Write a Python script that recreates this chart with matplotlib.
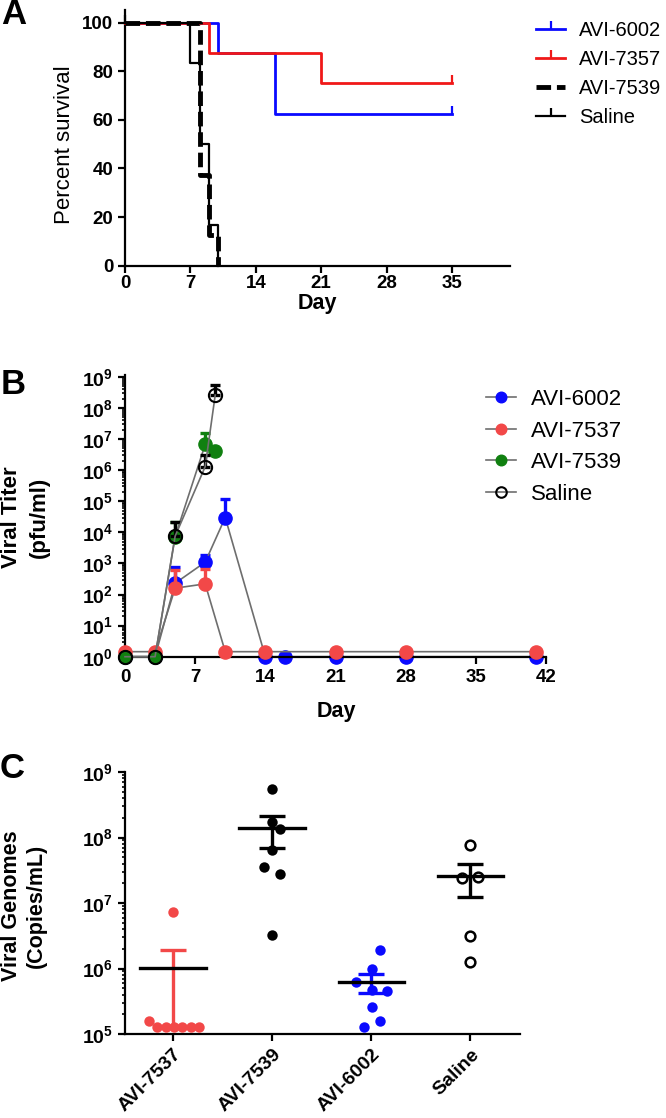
import numpy as np
import matplotlib
matplotlib.use("Agg")
import matplotlib.pyplot as plt
from matplotlib.ticker import LogLocator, FixedLocator, NullFormatter

plt.rcParams['font.family'] = ['Liberation Sans', 'DejaVu Sans']
plt.rcParams['mathtext.fontset'] = 'custom'
plt.rcParams['mathtext.rm'] = 'Liberation Sans'
plt.rcParams['mathtext.bf'] = 'Liberation Sans:bold'

# ---- panel A: survival (day, percent) ----
surv_names = ["AVI-6002", "AVI-7357", "AVI-7539", "Saline"]
surv_6002_days = [0, 10, 16, 35]
surv_6002_pct = [100, 87.5, 62.5, 62.5]
surv_7357_days = [0, 9, 21, 35]
surv_7357_pct = [100, 87.5, 75, 75]
surv_7539_days = [0, 8, 9, 10]
surv_7539_pct = [100, 37.5, 12.5, 0]
surv_sal_days = [0, 7, 8, 9, 10]
surv_sal_pct = [100, 83.3, 50, 16.7, 0]

# ---- panel B: viral titer ----
tit_names = ["AVI-6002", "AVI-7537", "AVI-7539", "Saline"]
tit_6002_days = [0, 3, 5, 8, 10, 14, 16, 21, 28, 41]
tit_6002_val = [1, 1, 230, 1100, 3.0e4, 1, 1, 1, 1, 1]
tit_6002_err = [0, 0, 780, 1900, 1.2e5, 0, 0, 0, 0, 0]
tit_7537_days = [0, 3, 5, 8, 10, 14, 21, 28, 41]
tit_7537_val = [1.45, 1.45, 160, 220, 1.45, 1.45, 1.45, 1.45, 1.45]
tit_7537_err = [0, 0, 610, 640, 0, 0, 0, 0, 0]
tit_7539_days = [0, 3, 5, 8, 9]
tit_7539_val = [1, 1, 7200, 6.7e6, 4.2e6]
tit_7539_err = [0, 0, 2.2e4, 1.6e7, 0]
tit_sal_days = [0, 3, 5, 8, 9]
tit_sal_val = [1, 1, 7500, 1.3e6, 2.6e8]
tit_sal_err = [0, 0, 2.1e4, 3.0e6, 5.4e8]

# ---- panel C: viral genomes per animal ----
gen_groups = ["AVI-7537", "AVI-7539", "AVI-6002", "Saline"]
gen_7537 = [7.3e6, 1.6e5, 1.3e5, 1.3e5, 1.3e5, 1.3e5, 1.3e5, 1.3e5]
gen_7539 = [5.5e8, 1.7e8, 1.35e8, 6.5e7, 3.5e7, 2.8e7, 3.3e6]
gen_6002 = [1.9e6, 1.0e6, 6.3e5, 4.7e5, 4.6e5, 2.6e5, 1.6e5, 1.3e5]
gen_sal = [7.7e7, 2.4e7, 2.5e7, 3.1e6, 1.25e6]
# horizontal scatter offsets (pixels) for the dot plot
off_7537 = [0, -24, -16, -7, 1, 9, 18, 26]
off_7539 = [0, 0, 8, 0, -8, 8, 0]
off_6002 = [9, 1, -15, 1, 16, 1, 9, -7]
off_sal = [0, -8, 8, 0, 0]

W, H = 666, 1118
fig = plt.figure(figsize=(W / 100, H / 100), dpi=100)


def box(x0, y0, x1, y1):
    return [x0 / W, 1 - y1 / H, (x1 - x0) / W, (y1 - y0) / H]


def fpos(x, y):
    return x / W, 1 - y / H


def style_axes(ax):
    for s in ['top', 'right']:
        ax.spines[s].set_visible(False)
    for s in ['left', 'bottom']:
        ax.spines[s].set_linewidth(1.6)
    ax.tick_params(which='major', length=5, width=1.6, labelsize=13.5, direction='out')
    ax.tick_params(which='minor', length=2.5, width=1.2, direction='out')
    for lab in ax.get_xticklabels() + ax.get_yticklabels():
        lab.set_fontweight('bold')


BLUE = '#0a0aff'
RED_A = '#f01818'
RED = '#f24848'
GREEN = '#108010'
GREY = '#6e6e6e'

# ================= A =================
axA = fig.add_axes(box(125, 10.5, 510, 265.7))
axA.step(surv_6002_days, surv_6002_pct, where='post', color=BLUE, lw=2,
         marker=2, markevery=[len(surv_6002_days) - 1], ms=6, mew=1.6,
         clip_on=False, label=surv_names[0], zorder=2)
axA.step(surv_7357_days, surv_7357_pct, where='post', color=RED_A, lw=2,
         marker=2, markevery=[len(surv_7357_days) - 1], ms=6, mew=1.6,
         clip_on=False, label=surv_names[1], zorder=3)
axA.step(surv_7539_days, surv_7539_pct, where='post', color='black', lw=3.5,
         ls=(0, (3.0, 1.2)), clip_on=False, label=surv_names[2], zorder=5)
axA.step(surv_sal_days, surv_sal_pct, where='post', color='black', lw=1.6,
         marker=2, markevery=[0], ms=6, mew=1.6,
         clip_on=False, label=surv_names[3], zorder=4)
axA.set_xlim(0, 41.2)
axA.set_ylim(0, 105)
axA.set_xticks([0, 7, 14, 21, 28, 35])
axA.set_yticks([0, 20, 40, 60, 80, 100])
style_axes(axA)
axA.tick_params(axis='x', pad=1.5)
axA.legend(loc='upper left', bbox_to_anchor=fpos(528, 13), bbox_transform=fig.transFigure,
           frameon=False, fontsize=14.5, handlelength=1.45, handletextpad=0.7,
           labelspacing=0.5, numpoints=1, borderaxespad=0)
fig.text(*fpos(64, 145), "Percent survival", rotation=90, ha='center', va='center', fontsize=16)
fig.text(*fpos(317, 303), "Day", ha='center', va='center', fontsize=15.5, fontweight='bold')
fig.text(*fpos(14, 15), "A", ha='center', va='center', fontsize=25, fontweight='bold')

# ================= B =================
axB = fig.add_axes(box(125, 375, 546, 656.7))
series_b = [
    (tit_6002_days, tit_6002_val, tit_6002_err, BLUE, BLUE, tit_names[0]),
    (tit_7537_days, tit_7537_val, tit_7537_err, RED, RED, tit_names[1]),
    (tit_7539_days, tit_7539_val, tit_7539_err, GREEN, GREEN, tit_names[2]),
    (tit_sal_days, tit_sal_val, tit_sal_err, 'black', 'none', tit_names[3]),
]
handles = []
for i, (d, v, e, c, fc, name) in enumerate(series_b):
    v = np.array(v, dtype=float)
    up = np.array(e, dtype=float) - v
    up[np.array(e) == 0] = 0
    mask = up > 0
    axB.errorbar(np.array(d)[mask], v[mask], yerr=[np.zeros(mask.sum()), up[mask]],
                 fmt='none', ecolor=c, elinewidth=2.4, capsize=3.8, capthick=2.4,
                 clip_on=False, zorder=2 + i)
    h, = axB.plot(d, v, '-', color=GREY, lw=1.2, marker='o', ms=9.5,
                  mfc=fc, mec=c, mew=1.5 if name == 'Saline' else 1.0,
                  clip_on=False, zorder=2 + i, label=name)
    handles.append(h)
axB.set_yscale('log')
axB.set_xlim(0, 42)
axB.set_ylim(1, 1.15e9)
axB.set_xticks([0, 7, 14, 21, 28, 35, 42])
axB.yaxis.set_major_locator(FixedLocator([10.0 ** k for k in range(10)]))
axB.yaxis.set_minor_locator(LogLocator(base=10, subs=np.arange(2, 10), numticks=20))
axB.yaxis.set_minor_formatter(NullFormatter())
axB.set_yticklabels([r'$\mathbf{10^{%d}}$' % k for k in range(10)])
style_axes(axB)
axB.tick_params(axis='y', labelsize=14)
axB.legend(handles=handles, loc='upper left', bbox_to_anchor=fpos(477, 380),
           bbox_transform=fig.transFigure, frameon=False, fontsize=16,
           handlelength=1.35, handletextpad=0.7, labelspacing=0.48,
           numpoints=1, borderaxespad=0, markerscale=0.8)
fig.text(*fpos(12, 517), "Viral Titer", rotation=90, ha='center', va='center',
         fontsize=16, fontweight='bold')
fig.text(*fpos(39, 517), "(pfu/ml)", rotation=90, ha='center', va='center',
         fontsize=16, fontweight='bold')
fig.text(*fpos(336, 711), "Day", ha='center', va='center', fontsize=15.5, fontweight='bold')
fig.text(*fpos(13, 384), "B", ha='center', va='center', fontsize=25, fontweight='bold')

# ================= C =================
axC = fig.add_axes(box(125, 772, 520, 1034))
groups_c = [
    (gen_7537, off_7537, RED, RED, RED),
    (gen_7539, off_7539, 'black', 'black', 'black'),
    (gen_6002, off_6002, BLUE, BLUE, BLUE),
    (gen_sal, off_sal, 'black', 'white', 'black'),
]
px_per_unit = 99.0
for i, (vals, offs, ec, fc, barc) in enumerate(groups_c):
    vals = np.array(vals)
    xs = i + np.array(offs) / px_per_unit
    axC.plot(xs, vals, 'o', ms=7.5 if fc != 'white' else 7, mfc=fc, mec=ec,
             mew=1.8 if fc == 'white' else 0, ls='none', clip_on=False, zorder=3)
    m = vals.mean()
    sem = vals.std(ddof=1) / np.sqrt(len(vals))
    axC.errorbar([i], [m], yerr=[[sem], [sem]], fmt='none', ecolor=barc,
                 elinewidth=2.4, capsize=9.5, capthick=2.4, zorder=4)
    axC.plot([i - 0.33, i + 0.33], [m, m], color='black', lw=2.4, zorder=5)
axC.set_yscale('log')
axC.set_ylim(1e5, 1e9)
axC.set_xlim(-0.485, 3.5)
axC.set_xticks(range(len(gen_groups)))
axC.set_xticklabels(gen_groups, rotation=45, ha='right', rotation_mode='anchor')
axC.yaxis.set_major_locator(FixedLocator([10.0 ** k for k in range(5, 10)]))
axC.yaxis.set_minor_locator(LogLocator(base=10, subs=np.arange(2, 10), numticks=20))
axC.yaxis.set_minor_formatter(NullFormatter())
axC.set_yticklabels([r'$\mathbf{10^{%d}}$' % k for k in range(5, 10)])
style_axes(axC)
axC.tick_params(axis='y', labelsize=14)
axC.tick_params(axis='x', labelsize=14)
fig.text(*fpos(12, 906), "Viral Genomes", rotation=90, ha='center', va='center',
         fontsize=15.5, fontweight='bold')
fig.text(*fpos(36, 906), "(Copies/mL)", rotation=90, ha='center', va='center',
         fontsize=15.5, fontweight='bold')
fig.text(*fpos(12, 768), "C", ha='center', va='center', fontsize=25, fontweight='bold')

fig.savefig("out.png", dpi=100)
